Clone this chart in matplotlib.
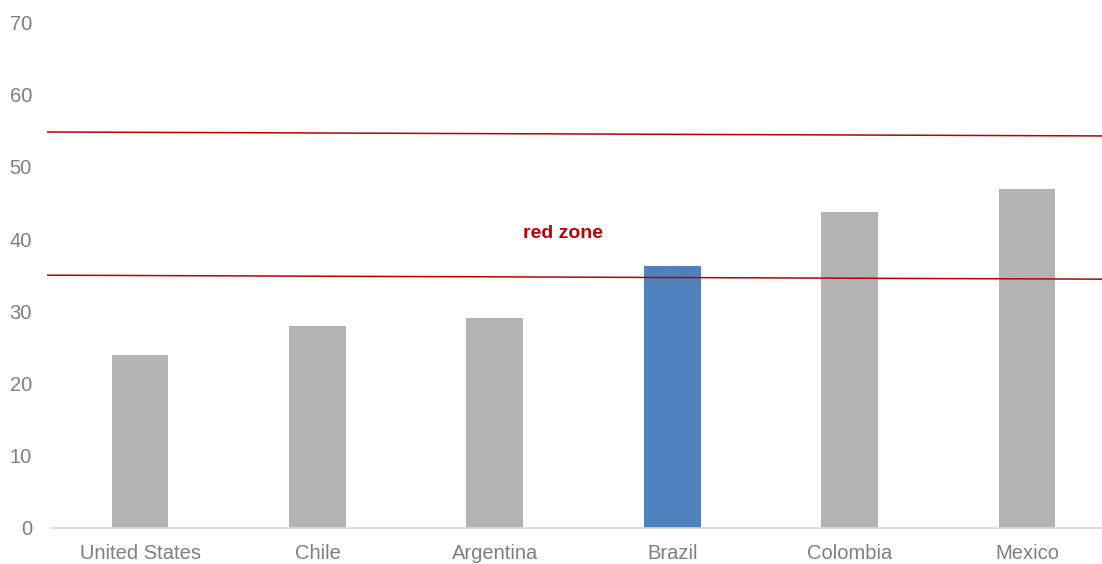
import matplotlib.pyplot as plt
import numpy as np

# 字体：窄体无衬线，没有时退回 Liberation Sans
plt.rcParams['font.family'] = ['Liberation Sans Narrow', 'Liberation Sans', 'DejaVu Sans']

# 数据
countries = ['United States', 'Chile', 'Argentina', 'Brazil', 'Colombia', 'Mexico']
values = [24.0, 27.9, 29.0, 36.3, 43.8, 46.9]
highlight = 'Brazil'

# 红区上下边界（左端、右端）
zone_x = [-0.52, 5.42]
zone_upper = [54.85, 54.3]
zone_lower = [35.0, 34.45]
zone_label = 'red zone'
zone_label_pos = (2.385, 40.8)

yticks = [0, 10, 20, 30, 40, 50, 60, 70]

fig = plt.figure(figsize=(11.02, 5.64), dpi=100)
ax = fig.add_axes([0.0466, 0.0644, 0.9659, 0.8954])

x = np.arange(len(countries))
colors = ['#4f81bd' if c == highlight else '#b3b3b3' for c in countries]
ax.bar(x, values, width=0.32, color=colors, zorder=2)

# 红区边界线
ax.plot(zone_x, zone_upper, color='#c00000', linewidth=1.1, zorder=3, clip_on=False)
ax.plot(zone_x, zone_lower, color='#c00000', linewidth=1.1, zorder=3, clip_on=False)
ax.text(zone_label_pos[0], zone_label_pos[1], zone_label, color='#c00000',
        fontsize=14, fontweight='bold', ha='center', va='center')

ax.set_xlim(-0.5, 5.5)
ax.set_ylim(0, 70)
ax.set_xticks(x)
ax.set_xticklabels(countries)
ax.set_yticks(yticks)

for s in ['top', 'right', 'left']:
    ax.spines[s].set_visible(False)
ax.spines['bottom'].set_color('#d9d9d9')
ax.spines['bottom'].set_linewidth(1.2)

ax.tick_params(axis='both', length=0, labelsize=14.5, labelcolor='#7f7f7f')
ax.tick_params(axis='y', pad=14)
ax.tick_params(axis='x', pad=12)

plt.savefig('out.png', dpi=100)
